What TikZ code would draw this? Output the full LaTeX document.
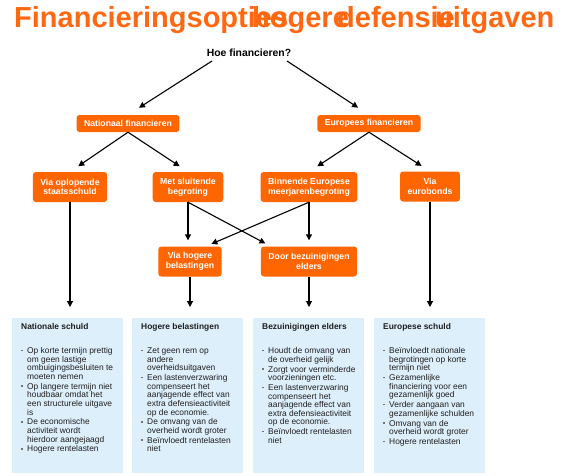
\documentclass[tikz,border=0pt]{standalone}
\usepackage{fontspec}
\setmainfont{Liberation Sans}
\usetikzlibrary{arrows.meta,positioning,calc}
\definecolor{BrandOrange}{RGB}{255,102,0}
\definecolor{TitleOrange}{RGB}{255,104,16}
\definecolor{PanelBlue}{RGB}{222,239,252}
\definecolor{PanelText}{RGB}{30,30,30}
\newcommand{\pnltitle}[1]{\noindent{\bfseries #1}\par\vspace{14.6pt}}
\newcommand{\pnlitem}[1]{\par\vspace{1.2pt}\noindent\hangindent=6pt\hangafter=1
  \makebox[6pt][l]{\textcolor{black!55}{\rule[2.3pt]{1.6pt}{1.6pt}}}#1\par}
\newcommand{\pnlbox}[1]{\parbox[t][145pt][t]{102pt}{\raggedright\leftskip=4.5pt #1}}
\tikzset{
  titleword/.style={anchor=base west,inner sep=0pt,text=TitleOrange,
    font=\fontsize{29}{29}\selectfont\bfseries},
  question/.style={inner sep=2pt,font=\fontsize{10.4}{12}\selectfont\bfseries},
  choice/.style={fill=BrandOrange,rounded corners=3pt,text=white,align=center,
    inner xsep=7.5pt,inner ysep=3pt,font=\fontsize{8.7}{9.7}\selectfont\bfseries},
  choiceone/.style={choice,minimum height=17pt},
  choicetwo/.style={choice,minimum height=30pt},
  panel/.style={fill=PanelBlue,anchor=north west,inner xsep=4.5pt,inner ysep=5pt,
    text=PanelText,font=\fontsize{8.4}{8.6}\selectfont},
  arrow/.style={-{Triangle[length=6pt,width=6pt]},line width=1.1pt,black},
  stopshort/.style={shorten >=#1}
}

\begin{document}
\begin{tikzpicture}[x=1pt,y=-1pt]
  \useasboundingbox (0,0) rectangle (572,475);
  % title, words set on top of each other
  \node[titleword] (t1) at (14,27) {Financieringsopties};
  \node[titleword] (t2) at (252,27) {hogere};
  \node[titleword] (t3) at (337,27) {defensie};
  \node[titleword] (t4) at (435,27) {uitgaven};

  \node[question] (q) at (249,53) {Hoe financieren?};
  \coordinate (qL) at (212,61);
  \coordinate (qR) at (287,61);

  % choices
  \node[choiceone] (nat) at (128,123.5) {Nationaal financieren};
  \node[choiceone] (eur) at (369,123.5) {Europees financieren};
  \node[choicetwo] (opl) at (70,187) {Via oplopende\\staatsschuld};
  \node[choicetwo] (slu) at (188,187) {Met sluitende\\begroting};
  \node[choicetwo] (mfk) at (309,187) {Binnende Europese\\meerjarenbegroting};
  \node[choicetwo] (bonds) at (430,186.5) {Via\\eurobonds};
  \node[choicetwo] (bel) at (190,261.5) {Via hogere\\belastingen};
  \node[choicetwo] (bez) at (309,261.5) {Door bezuinigingen\\elders};

  % panels
  \node[panel] (p1) at (12,318) {\pnlbox{\pnltitle{Nationale schuld}
    \pnlitem{Op korte termijn prettig\newline om geen lastige\newline ombuigingsbesluiten te\newline moeten nemen}
    \pnlitem{Op langere termijn niet\newline houdbaar omdat het\newline een structurele uitgave\newline is}
    \pnlitem{De economische\newline activiteit wordt\newline hierdoor aangejaagd}
    \pnlitem{Hogere rentelasten}}};
  \node[panel] (p2) at (132,318) {\pnlbox{\pnltitle{Hogere belastingen}
    \pnlitem{Zet geen rem op\newline andere\newline overheidsuitgaven}
    \pnlitem{Een lastenverzwaring\newline compenseert het\newline aanjagende effect van\newline extra defensieactiviteit\newline op de economie.}
    \pnlitem{De omvang van de\newline overheid wordt groter}
    \pnlitem{Beïnvloedt rentelasten\newline niet}}};
  \node[panel] (p3) at (253,318) {\pnlbox{\pnltitle{Bezuinigingen elders}
    \pnlitem{Houdt de omvang van\newline de overheid gelijk}
    \pnlitem{Zorgt voor verminderde\newline voorzieningen etc.}
    \pnlitem{Een lastenverzwaring\newline compenseert het\newline aanjagende effect van\newline extra defensieactiviteit\newline op de economie.}
    \pnlitem{Beïnvloedt rentelasten\newline niet}}};
  \node[panel] (p4) at (374,318) {\pnlbox{\pnltitle{Europese schuld}
    \pnlitem{Beïnvloedt nationale\newline begrotingen op korte\newline termijn niet}
    \pnlitem{Gezamenlijke\newline financiering voor een\newline gezamenlijk goed}
    \pnlitem{Verder aangaan van\newline gezamenlijke schulden}
    \pnlitem{Omvang van de\newline overheid wordt groter}
    \pnlitem{Hogere rentelasten}}};

  % connectors
  \draw[arrow,stopshort=13pt] (qL) -- (nat.north);
  \draw[arrow,stopshort=13pt] (qR) -- (eur.north);
  \draw[arrow,stopshort=10pt] (nat.south) -- (opl.north);
  \draw[arrow,stopshort=10pt] (nat.south) -- (slu.north);
  \draw[arrow,stopshort=10pt] (eur.south) -- (mfk.north);
  \draw[arrow,stopshort=10pt] (eur.south) -- (bonds.north);
  \draw[arrow,stopshort=6pt] (slu.south) -- (slu.south |- bel.north);
  \draw[arrow,stopshort=6pt] (slu.south) -- ($(bez.north west)+(10,0)$);
  \draw[arrow,stopshort=6pt] (mfk.south) -- (mfk.south |- bez.north);
  \draw[arrow,stopshort=6pt] (mfk.south) -- ($(bel.north east)+(-16,0)$);
  \draw[arrow,stopshort=11pt] (opl.south) -- (opl.south |- p1.north);
  \draw[arrow,stopshort=11pt] (bel.south) -- (bel.south |- p2.north);
  \draw[arrow,stopshort=11pt] (bez.south) -- (bez.south |- p3.north);
  \draw[arrow,stopshort=11pt] (bonds.south) -- (bonds.south |- p4.north);
\end{tikzpicture}
\end{document}
